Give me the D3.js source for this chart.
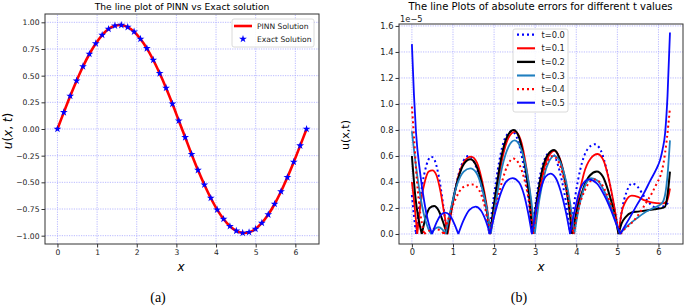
<!DOCTYPE html>
<html><head><meta charset="utf-8">
<script src="https://cdn.jsdelivr.net/npm/d3@7"></script>
<style>body{margin:0;background:#fff}svg{display:block}</style>
</head><body><svg id="c" width="685" height="306"></svg>
<script>
// ---------- data: panel (a) ----------
const xGrid = [0, 0.161, 0.322, 0.483, 0.644, 0.806, 0.967, 1.128, 1.289, 1.450, 1.611, 1.772, 1.933, 2.094, 2.255, 2.417, 2.578, 2.739, 2.900, 3.061, 3.222, 3.383, 3.544, 3.706, 3.867, 4.028, 4.189, 4.350, 4.511, 4.672, 4.833, 4.995, 5.156, 5.317, 5.478, 5.639, 5.800, 5.961, 6.122, 6.283];
const exactU = [0, 0.156, 0.309, 0.453, 0.586, 0.703, 0.802, 0.881, 0.937, 0.968, 0.974, 0.955, 0.912, 0.844, 0.756, 0.647, 0.522, 0.385, 0.236, 0.078, -0.078, -0.236, -0.385, -0.522, -0.647, -0.756, -0.844, -0.912, -0.955, -0.974, -0.968, -0.937, -0.881, -0.802, -0.703, -0.586, -0.453, -0.309, -0.156, 0];
const pinnU = [0, 0.156, 0.309, 0.453, 0.586, 0.703, 0.802, 0.881, 0.937, 0.968, 0.974, 0.955, 0.912, 0.844, 0.756, 0.647, 0.522, 0.385, 0.236, 0.078, -0.078, -0.236, -0.385, -0.522, -0.647, -0.756, -0.844, -0.912, -0.955, -0.974, -0.968, -0.937, -0.881, -0.802, -0.703, -0.586, -0.453, -0.309, -0.156, 0];
const leftYTicks = [1.00, 0.75, 0.50, 0.25, 0.00, -0.25, -0.50, -0.75, -1.00];
const xTicks = [0, 1, 2, 3, 4, 5, 6];
const leftLegend = ["PINN Solution", "Exact Solution"];

// ---------- data: panel (b) (values in units of 1e-5) ----------
const rightYTicks = [0.0, 0.2, 0.4, 0.6, 0.8, 1.0, 1.2, 1.4, 1.6];
const tLabels = ["t=0.0", "t=0.1", "t=0.2", "t=0.3", "t=0.4", "t=0.5"];
const err_t00 = [[0,0.30],[0.05,0.14],[0.1,0],[0.2,0.27],[0.3,0.46],[0.4,0.57],[0.47,0.595],[0.55,0.57],[0.65,0.45],[0.75,0.25],[0.85,0],
 [1.0,0.25],[1.12,0.44],[1.25,0.56],[1.38,0.60],[1.52,0.55],[1.65,0.42],[1.77,0.24],[1.88,0],
 [2.0,0.30],[2.12,0.55],[2.27,0.74],[2.43,0.79],[2.58,0.72],[2.72,0.52],[2.83,0.29],[2.92,0],
 [3.03,0.28],[3.13,0.47],[3.25,0.59],[3.37,0.63],[3.5,0.58],[3.62,0.45],[3.74,0.26],[3.85,0],
 [3.98,0.3],[4.1,0.5],[4.27,0.65],[4.45,0.69],[4.6,0.64],[4.75,0.48],[4.9,0.25],[5.03,0],
 [5.12,0.2],[5.22,0.32],[5.36,0.39],[5.5,0.36],[5.65,0.29],[5.8,0.23],[5.95,0.2],[6.1,0.21],[6.2,0.23],[6.28,0.25]];
const err_t01 = [[0,0.40],[0.07,0.2],[0.13,0],[0.22,0.25],[0.32,0.41],[0.41,0.48],[0.5,0.49],[0.6,0.45],[0.7,0.32],[0.78,0.17],[0.87,0],
 [1.0,0.24],[1.12,0.43],[1.28,0.56],[1.44,0.595],[1.58,0.55],[1.7,0.42],[1.81,0.24],[1.91,0],
 [2.05,0.3],[2.2,0.58],[2.35,0.74],[2.51,0.787],[2.65,0.72],[2.78,0.52],[2.88,0.29],[2.96,0],
 [3.08,0.27],[3.2,0.48],[3.33,0.6],[3.47,0.64],[3.6,0.58],[3.72,0.44],[3.83,0.25],[3.93,0],
 [4.05,0.27],[4.18,0.46],[4.35,0.58],[4.52,0.615],[4.67,0.56],[4.8,0.41],[4.92,0.22],[5.03,0],
 [5.1,0.16],[5.2,0.25],[5.35,0.295],[5.5,0.285],[5.65,0.26],[5.8,0.245],[5.95,0.238],[6.1,0.235],[6.2,0.25],[6.25,0.3],[6.28,0.35]];
const err_t02 = [[0,0.60],[0.08,0.3],[0.24,0],[0.33,0.12],[0.43,0.2],[0.54,0.215],[0.65,0.18],[0.75,0.1],[0.85,0],
 [0.98,0.23],[1.12,0.42],[1.27,0.54],[1.42,0.574],[1.56,0.53],[1.69,0.4],[1.8,0.23],[1.9,0],
 [2.03,0.3],[2.17,0.58],[2.32,0.75],[2.48,0.80],[2.62,0.73],[2.75,0.53],[2.85,0.3],[2.93,0],
 [3.05,0.28],[3.17,0.49],[3.31,0.61],[3.46,0.645],[3.58,0.59],[3.7,0.45],[3.8,0.26],[3.9,0],
 [4.03,0.2],[4.17,0.35],[4.33,0.45],[4.5,0.48],[4.65,0.44],[4.78,0.33],[4.91,0.18],[5.03,0],
 [5.1,0.08],[5.2,0.13],[5.35,0.165],[5.5,0.172],[5.7,0.18],[5.9,0.19],[6.05,0.197],[6.16,0.21],[6.22,0.3],[6.28,0.48]];
const err_t03 = [[0,0.79],[0.1,0.52],[0.2,0.3],[0.3,0.14],[0.4,0.04],[0.47,0],[0.56,0.04],[0.65,0.052],[0.74,0.035],[0.82,0],
 [0.96,0.21],[1.1,0.38],[1.26,0.48],[1.42,0.505],[1.57,0.47],[1.7,0.36],[1.82,0.2],[1.92,0],
 [2.06,0.28],[2.2,0.52],[2.35,0.67],[2.5,0.72],[2.65,0.66],[2.79,0.49],[2.9,0.27],[2.99,0],
 [3.1,0.26],[3.22,0.45],[3.34,0.56],[3.47,0.60],[3.61,0.55],[3.74,0.42],[3.85,0.24],[3.95,0],
 [4.07,0.21],[4.2,0.36],[4.36,0.43],[4.52,0.41],[4.68,0.33],[4.84,0.21],[4.96,0.1],[5.06,0],
 [5.2,0.05],[5.31,0.08],[5.47,0.12],[5.64,0.16],[5.88,0.2],[6.08,0.235],[6.16,0.3],[6.22,0.45],[6.28,0.72]];
const err_t04 = [[0,0.98],[0.05,0.75],[0.1,0.5],[0.18,0.22],[0.3,0],[0.42,0.025],[0.55,0.04],[0.67,0.03],[0.78,0],
 [0.9,0.13],[1.05,0.26],[1.25,0.36],[1.48,0.38],[1.63,0.34],[1.75,0.24],[1.83,0.13],[1.9,0],
 [2.05,0.22],[2.2,0.41],[2.33,0.53],[2.47,0.58],[2.62,0.53],[2.76,0.39],[2.87,0.21],[2.95,0],
 [3.07,0.26],[3.18,0.44],[3.3,0.56],[3.42,0.60],[3.56,0.56],[3.7,0.42],[3.82,0.24],[3.93,0],
 [4.05,0.19],[4.2,0.33],[4.42,0.42],[4.6,0.39],[4.75,0.3],[4.9,0.18],[5.0,0.08],[5.08,0],
 [5.15,0.03],[5.3,0.07],[5.47,0.13],[5.6,0.19],[5.72,0.25],[5.85,0.32],[5.96,0.39],[6.05,0.45],[6.12,0.54],[6.2,0.72],[6.28,0.97]];
const err_t05 = [[0,1.46],[0.05,1.07],[0.1,0.78],[0.2,0.47],[0.3,0.25],[0.4,0.09],[0.49,0],
 [0.6,0.09],[0.7,0.145],[0.81,0.165],[0.92,0.145],[1.03,0.08],[1.13,0],
 [1.25,0.1],[1.4,0.185],[1.55,0.21],[1.68,0.18],[1.8,0.1],[1.9,0],
 [2.03,0.17],[2.17,0.32],[2.3,0.405],[2.45,0.43],[2.6,0.4],[2.73,0.3],[2.83,0.16],[2.92,0],
 [3.03,0.2],[3.13,0.34],[3.25,0.44],[3.37,0.465],[3.5,0.43],[3.62,0.33],[3.74,0.18],[3.85,0],
 [3.97,0.19],[4.1,0.35],[4.3,0.42],[4.5,0.39],[4.68,0.3],[4.85,0.18],[4.97,0.08],[5.07,0],
 [5.18,0.06],[5.31,0.13],[5.47,0.22],[5.64,0.31],[5.8,0.41],[5.95,0.5],[6.04,0.57],[6.1,0.65],[6.16,0.77],[6.22,1.06],[6.28,1.55]];

// ---------- styles ----------
const FONT = "DejaVu Sans, sans-serif";
const seriesStyle = [
  {c:"#0000ff", w:2.0, dash:"2,3"},
  {c:"#ff0000", w:1.8, dash:null},
  {c:"#000000", w:2.0, dash:null},
  {c:"#1f7fbf", w:1.8, dash:null},
  {c:"#ff0000", w:2.0, dash:"2,3"},
  {c:"#0a0aff", w:1.8, dash:null}
];
const errSeries = [err_t00, err_t01, err_t02, err_t03, err_t04, err_t05];

const svg = d3.select("#c");

function gridAndFrame(g, xs, ys, yt) {
  const [x0, x1] = xs.range(), [y0, y1] = ys.range();
  g.append("g").selectAll("line.gx").data(xTicks).join("line")
    .attr("x1", d => xs(d)).attr("x2", d => xs(d)).attr("y1", y0).attr("y2", y1)
    .attr("stroke", "#a8a8ff").attr("stroke-width", 0.8).attr("stroke-dasharray", "1.2,1.2");
  g.append("g").selectAll("line.gy").data(yt).join("line")
    .attr("x1", x0).attr("x2", x1).attr("y1", d => ys(d)).attr("y2", d => ys(d))
    .attr("stroke", "#a8a8ff").attr("stroke-width", 0.8).attr("stroke-dasharray", "1.2,1.2");
}
function frame(g, xs, ys) {
  const [x0, x1] = xs.range(), [y0, y1] = ys.range();
  g.append("rect").attr("x", x0).attr("y", y1).attr("width", x1 - x0).attr("height", y0 - y1)
    .attr("fill", "none").attr("stroke", "#333").attr("stroke-width", 1);
}
function axes(g, xs, ys, yt, yfmt, fs) {
  const ax = g.append("g").attr("transform", `translate(0,${ys.range()[0]})`)
    .call(d3.axisBottom(xs).tickValues(xTicks).tickSize(3.5).tickPadding(2).tickFormat(d3.format("d")));
  const ay = g.append("g").attr("transform", `translate(${xs.range()[0]},0)`)
    .call(d3.axisLeft(ys).tickValues(yt).tickSize(3.5).tickPadding(2).tickFormat(yfmt));
  [ax, ay].forEach(a => {
    a.select(".domain").remove();
    a.selectAll("line").attr("stroke", "#333");
    a.selectAll("text").attr("font-family", FONT).attr("font-size", fs).attr("fill", "#222");
  });
}

// ================= Panel (a) =================
const xL = d3.scaleLinear().domain([-0.314, 6.597]).range([45, 319]);
const yL = d3.scaleLinear().domain([-1.078, 1.078]).range([244, 14]);
const gL = svg.append("g");
gridAndFrame(gL, xL, yL, leftYTicks);

gL.append("path").datum(xGrid.map((x, i) => [x, pinnU[i]]))
  .attr("fill", "none").attr("stroke", "#ff0000").attr("stroke-width", 2.6)
  .attr("d", d3.line().x(d => xL(d[0])).y(d => yL(d[1])).curve(d3.curveCatmullRom));
const star = d3.symbol(d3.symbolStar, 19);
gL.append("g").selectAll("path").data(xGrid.map((x, i) => [x, exactU[i]])).join("path")
  .attr("transform", d => `translate(${xL(d[0])},${yL(d[1])})`).attr("d", star).attr("fill", "#0000ff");
frame(gL, xL, yL);
axes(gL, xL, yL, leftYTicks, d3.format(".2f"), 7.6);

svg.append("text").attr("x", 182).attr("y", 6).attr("text-anchor", "middle").attr("dominant-baseline", "central")
  .attr("font-family", FONT).attr("font-size", 9.2).text("The line plot of PINN vs Exact solution");
// y label u(x, t)
const ulab = svg.append("text").attr("transform", "translate(8,131) rotate(-90)").attr("text-anchor", "middle")
  .attr("dominant-baseline", "central").attr("font-family", FONT).attr("font-size", 12);
[["u", true], ["(", false], ["x", true], [", ", false], ["t", true], [")", false]].forEach(([s, it]) =>
  ulab.append("tspan").attr("font-style", it ? "italic" : "normal").text(s));
svg.append("text").attr("x", 181).attr("y", 267).attr("text-anchor", "middle").attr("dominant-baseline", "central")
  .attr("font-family", FONT).attr("font-style", "italic").attr("font-size", 12).text("x");

// legend (a)
const lgL = svg.append("g");
lgL.append("rect").attr("x", 232).attr("y", 19).attr("width", 82).attr("height", 28).attr("rx", 2)
  .attr("fill", "#fff").attr("fill-opacity", 0.85).attr("stroke", "#d0d0d0").attr("stroke-width", 0.8);
lgL.append("line").attr("x1", 234).attr("x2", 252).attr("y1", 26).attr("y2", 26).attr("stroke", "#ff0000").attr("stroke-width", 2.6);
lgL.append("path").attr("transform", "translate(243,39)").attr("d", star).attr("fill", "#0000ff");
leftLegend.forEach((t, i) => lgL.append("text").attr("x", 257).attr("y", 26 + i * 13).attr("dominant-baseline", "central")
  .attr("font-family", FONT).attr("font-size", 7.6).attr("fill", "#222").text(t));

svg.append("text").attr("x", 158).attr("y", 297).attr("text-anchor", "middle").attr("dominant-baseline", "central")
  .attr("font-family", "Liberation Serif, DejaVu Serif, serif").attr("font-size", 14).text("(a)");

// ================= Panel (b) =================
const xR = d3.scaleLinear().domain([-0.314, 6.597]).range([399, 683]);
const yR = d3.scaleLinear().domain([-0.077, 1.615]).range([244, 24]);
const gR = svg.append("g");
gridAndFrame(gR, xR, yR, rightYTicks);

const segLine = d3.line().x(d => xR(d[0])).y(d => yR(d[1])).curve(d3.curveMonotoneX);
function splitAtZeros(arr) {
  const segs = []; let cur = [];
  arr.forEach((p, i) => {
    cur.push(p);
    if (p[1] === 0 && i > 0 && i < arr.length - 1) { segs.push(cur); cur = [p]; }
  });
  if (cur.length > 1) segs.push(cur);
  return segs;
}
errSeries.forEach((s, i) => {
  const st = seriesStyle[i];
  const d = splitAtZeros(s).map(seg => segLine(seg)).join("");
  gR.append("path").attr("d", d).attr("fill", "none").attr("stroke", st.c).attr("stroke-width", st.w)
    .attr("stroke-dasharray", st.dash).attr("stroke-linejoin", "round");
});
frame(gR, xR, yR);
axes(gR, xR, yR, rightYTicks, d3.format(".1f"), 8.3);

svg.append("text").attr("x", 540.5).attr("y", 6).attr("text-anchor", "middle").attr("dominant-baseline", "central")
  .attr("font-family", FONT).attr("font-size", 10).text("The line Plots of absolute errors for different t values");
svg.append("text").attr("x", 400).attr("y", 18.5).attr("dominant-baseline", "central")
  .attr("font-family", FONT).attr("font-size", 8.3).attr("fill", "#222").text("1e\u22125");
svg.append("text").attr("transform", "translate(345,135) rotate(-90)").attr("text-anchor", "middle")
  .attr("dominant-baseline", "central").attr("font-family", FONT).attr("font-size", 11).text("u(x,t)");
svg.append("text").attr("x", 541).attr("y", 267).attr("text-anchor", "middle").attr("dominant-baseline", "central")
  .attr("font-family", FONT).attr("font-style", "italic").attr("font-size", 12).text("x");

// legend (b)
const lgR = svg.append("g");
lgR.append("rect").attr("x", 513).attr("y", 29).attr("width", 55).attr("height", 83).attr("rx", 2)
  .attr("fill", "#fff").attr("fill-opacity", 0.85).attr("stroke", "#d0d0d0").attr("stroke-width", 0.8);
tLabels.forEach((t, i) => {
  const st = seriesStyle[i], y = 34.7 + i * 13.6;
  lgR.append("line").attr("x1", 517).attr("x2", 535).attr("y1", y).attr("y2", y)
    .attr("stroke", st.c).attr("stroke-width", st.w + 0.3).attr("stroke-dasharray", st.dash);
  lgR.append("text").attr("x", 541.5).attr("y", y).attr("dominant-baseline", "central")
    .attr("font-family", FONT).attr("font-size", 8.3).attr("fill", "#222").text(t);
});

svg.append("text").attr("x", 519).attr("y", 297).attr("text-anchor", "middle").attr("dominant-baseline", "central")
  .attr("font-family", "Liberation Serif, DejaVu Serif, serif").attr("font-size", 14).text("(b)");
</script>
</body></html>
